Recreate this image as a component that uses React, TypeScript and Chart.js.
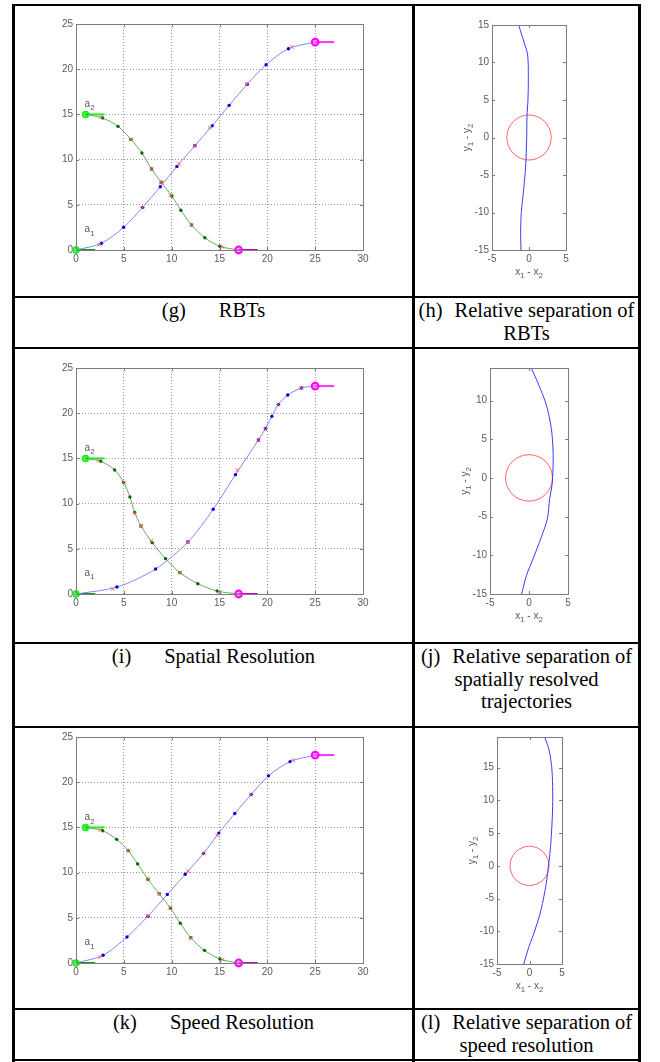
import React, { useEffect, useRef } from "react";
import { Chart, registerables } from "chart.js";
Chart.register(...registerables);

type P = [number, number];
type Part = { t: string; sub?: boolean };

// ---------------- axis ticks / ranges ----------------
const trajXTicks = [0, 5, 10, 15, 20, 25, 30];
const trajYTicks = [0, 5, 10, 15, 20, 25];
const trajXRange: P = [0, 30];
const trajYRange: P = [0, 25];

const sepXTicks = [-5, 0, 5];
const sepXRange: P = [-5, 5];
const sepYTicksH = [-15, -10, -5, 0, 5, 10, 15];
const sepYTicksJ = [-15, -10, -5, 0, 5, 10];
const sepYTicksL = [-15, -10, -5, 0, 5, 10, 15];
const sepYRangeH: P = [-15, 15];
const sepYRangeJ: P = [-15, 14.2];
const sepYRangeL: P = [-15, 19.7];

// ---------------- start / goal of the two agents ----------------
const a1Start: P = [0, 0];
const a2Start: P = [1, 15];
const a1Goal: P = [25, 23];
const a2Goal: P = [17, 0];
const a1StartTail: P[] = [[0, 0], [2, 0]];
const a2StartTail: P[] = [[1, 15], [3, 15]];
const a1GoalTail: P[] = [[25, 23], [27, 23]];
const a2GoalTail: P[] = [[17, 0], [19, 0]];

// ---------------- (g) RBTs ----------------
const gA1Track: P[] = [[0, 0], [2.65, 0.74], [4.98, 2.51], [6.96, 4.72], [8.81, 7.0], [10.55, 9.25], [12.43, 11.54], [14.24, 13.75], [16.01, 16.0], [17.89, 18.33], [19.87, 20.5], [22.21, 22.27], [25, 23]];
const gA1Est: P[] = [[2.44, 0.59], [6.96, 4.72], [8.95, 7.45], [10.76, 9.55], [12.43, 11.54], [13.99, 13.53], [17.89, 18.33], [22.55, 22.46]];
const gA2Track: P[] = [[1, 15], [2.78, 14.6], [4.39, 13.68], [5.74, 12.24], [6.89, 10.73], [7.9, 8.96], [8.91, 7.49], [10.02, 5.97], [10.96, 4.39], [12.08, 2.77], [13.47, 1.36], [15.04, 0.41], [17, 0]];
const gA2Est: P[] = [[2.58, 14.7], [5.74, 12.24], [7.9, 8.96], [8.91, 7.49], [9.88, 6.08], [12.08, 2.77], [15.31, 0.33]];
const gLabelA1: P = [0.9, 2.27];
const gLabelA2: P = [0.9, 16.2];

// ---------------- (i) Spatial resolution ----------------
const iA1Track: P[] = [[0, 0], [4.28, 0.77], [8.32, 2.77], [11.7, 5.75], [14.34, 9.37], [16.67, 13.2], [19.07, 17.04], [19.8, 18.29], [20.47, 19.65], [21.16, 20.98], [22.14, 22.01], [23.56, 22.79], [25, 23]];
const iA1Est: P[] = [[3.83, 0.55], [11.7, 5.75], [16.88, 13.72], [19.07, 17.04], [19.8, 18.2], [21.16, 20.98], [23.56, 22.79]];
const iA2Track: P[] = [[1, 15], [2.58, 14.68], [4.04, 13.72], [4.98, 12.35], [5.64, 10.73], [6.13, 9.03], [6.79, 7.52], [7.97, 5.68], [9.36, 3.91], [10.86, 2.36], [12.74, 1.14], [14.76, 0.33], [17, 0]];
const iA2Est: P[] = [[2.37, 14.75], [4.98, 12.35], [6.16, 8.89], [6.79, 7.52], [7.87, 5.9], [10.86, 2.36], [15.0, 0.22]];
const iLabelA1: P = [0.9, 2.35];
const iLabelA2: P = [0.9, 16.2];

// ---------------- (k) Speed resolution ----------------
const kA1Track: P[] = [[0, 0], [2.82, 0.85], [5.33, 2.87], [7.52, 5.18], [9.54, 7.57], [11.42, 9.82], [13.33, 12.13], [14.93, 14.37], [16.6, 16.54], [18.31, 18.64], [20.12, 20.7], [22.38, 22.28], [25, 23]];
const kA1Est: P[] = [[2.47, 0.66], [7.52, 5.18], [11.73, 10.15], [13.33, 12.13], [14.76, 14.12], [18.31, 18.64], [22.69, 22.43]];
const kA2Track: P[] = [[1, 15], [2.78, 14.63], [4.25, 13.68], [5.46, 12.43], [6.44, 10.96], [7.52, 9.26], [8.7, 7.65], [9.88, 6.07], [10.9, 4.41], [12.0, 2.79], [13.43, 1.4], [15.04, 0.44], [17, 0]];
const kA2Est: P[] = [[2.51, 14.7], [5.46, 12.43], [7.52, 9.26], [8.7, 7.65], [9.82, 6.14], [12.0, 2.79], [15.31, 0.37]];
const kLabelA1: P = [0.9, 2.27];
const kLabelA2: P = [0.9, 16.1];

// ---------------- relative separations ----------------
const hSep: P[] = [[-1.4, 15], [-0.63, 12.57], [-0.18, 11.0], [-0.09, 8.1], [-0.14, 5.04], [-0.27, 2.83], [-0.32, -0.27], [-0.45, -3.8], [-0.72, -6.9], [-1.04, -10.0], [-1.13, -12.65], [-1.08, -15]];
const jSep: P[] = [[0.3, 14.2], [1.24, 12.03], [2.22, 9.44], [2.86, 6.4], [3.08, 3.6], [3.08, 1.2], [2.95, -0.95], [2.65, -2.68], [2.35, -5.28], [1.58, -7.66], [0.51, -10.48], [-0.34, -12.64], [-0.98, -15.15]];
const lSep: P[] = [[2.33, 19.7], [3.0, 17.76], [3.41, 15.2], [3.56, 12.14], [3.56, 9.08], [3.41, 5.51], [3.15, 1.94], [2.9, -0.1], [2.59, -2.65], [1.77, -6.73], [0.85, -9.8], [-0.08, -12.35], [-0.9, -15.05]];
const safetyCenter: P = [0, 0];
const safetyRadius = 3;

// ---------------- styling ----------------
const FAM = "'Liberation Sans', Arial, Helvetica, sans-serif";
const TICK_COLOR = "#5a5a5a";
const TICK_SIZE = 10;
const BOX_COLOR = "#7c7c7c";

const xy = (a: P[]) => a.map(([x, y]) => ({ x, y }));

function drawRich(ctx: CanvasRenderingContext2D, parts: Part[], x: number, y: number, align: "left" | "center", size: number, color: string) {
  const sub = size * 0.78;
  const widths = parts.map((p) => {
    ctx.font = `${p.sub ? sub : size}px ${FAM}`;
    return ctx.measureText(p.t).width;
  });
  const total = widths.reduce((s, w) => s + w, 0);
  let cx = align === "center" ? x - total / 2 : x;
  ctx.fillStyle = color;
  ctx.textAlign = "left";
  ctx.textBaseline = "alphabetic";
  parts.forEach((p, i) => {
    ctx.font = `${p.sub ? sub : size}px ${FAM}`;
    ctx.fillText(p.t, cx, p.sub ? y + size * 0.32 : y);
    cx += widths[i];
  });
}

const matlabPlugin = {
  id: "matlabAxes",
  beforeDatasetsDraw(chart: any, _a: any, opts: any) {
    if (!opts.circle) return;
    const { ctx, scales } = chart;
    const xs = scales.x, ys = scales.y;
    const { c, r, color } = opts.circle;
    const px = xs.getPixelForValue(c[0]);
    const py = ys.getPixelForValue(c[1]);
    const rx = Math.abs(xs.getPixelForValue(c[0] + r) - px);
    const ry = Math.abs(ys.getPixelForValue(c[1] + r) - py);
    ctx.save();
    ctx.beginPath();
    ctx.ellipse(px, py, rx, ry, 0, 0, Math.PI * 2);
    ctx.strokeStyle = color;
    ctx.lineWidth = 1;
    ctx.stroke();
    ctx.restore();
  },
  afterDatasetsDraw(chart: any, _a: any, opts: any) {
    const { ctx, chartArea: a, scales } = chart;
    const xs = scales.x, ys = scales.y;
    ctx.save();
    ctx.strokeStyle = BOX_COLOR;
    ctx.lineWidth = 1;
    ctx.strokeRect(a.left + 0.5, a.top + 0.5, a.right - a.left, a.bottom - a.top);
    const len = opts.tickLen;
    ctx.beginPath();
    xs.ticks.forEach((t: any) => {
      const p = Math.round(xs.getPixelForValue(t.value)) + 0.5;
      if (p <= a.left + 1.5 || p >= a.right - 0.5) return;
      ctx.moveTo(p, a.bottom);
      ctx.lineTo(p, a.bottom - len);
      ctx.moveTo(p, a.top);
      ctx.lineTo(p, a.top + len);
    });
    ys.ticks.forEach((t: any) => {
      const p = Math.round(ys.getPixelForValue(t.value)) + 0.5;
      if (p <= a.top + 1.5 || p >= a.bottom - 0.5) return;
      ctx.moveTo(a.left, p);
      ctx.lineTo(a.left + len, p);
      ctx.moveTo(a.right, p);
      ctx.lineTo(a.right - len, p);
    });
    ctx.stroke();
    (opts.labels || []).forEach((lb: any) => {
      const px = xs.getPixelForValue(lb.at[0]);
      const py = ys.getPixelForValue(lb.at[1]);
      drawRich(ctx, lb.parts, px, py + 3, "left", TICK_SIZE, TICK_COLOR);
    });
    if (opts.xTitle) {
      drawRich(ctx, opts.xTitle, (a.left + a.right) / 2, a.bottom + 25, "center", TICK_SIZE, TICK_COLOR);
    }
    if (opts.yTitle) {
      ctx.save();
      ctx.translate(a.left - 25, (a.top + a.bottom) / 2);
      ctx.rotate(-Math.PI / 2);
      drawRich(ctx, opts.yTitle, 0, 3, "center", TICK_SIZE, TICK_COLOR);
      ctx.restore();
    }
    ctx.restore();
  },
};

interface Geo { left: number; top: number; width: number; height: number; L: number; T: number; R: number; B: number }

function axis(range: P, ticks: number[], sizeFn: (s: any) => void, grid: boolean) {
  return {
    type: "linear",
    min: range[0],
    max: range[1],
    afterBuildTicks: (s: any) => { s.ticks = ticks.map((v) => ({ value: v })); },
    afterFit: sizeFn,
    grid: grid
      ? { display: true, color: "rgba(60,60,60,0.55)", lineWidth: 1, drawTicks: false }
      : { display: false, drawTicks: false },
    border: { display: false, dash: [1, 2] },
    ticks: { padding: 3, autoSkip: false, maxRotation: 0, color: TICK_COLOR, font: { family: FAM, size: TICK_SIZE } },
  };
}

function baseOptions(g: Geo, xr: P, xt: number[], yr: P, yt: number[], grid: boolean, plugin: any) {
  const L = g.L - g.left, T = g.T - g.top, R = g.R - g.left, B = g.B - g.top;
  return {
    responsive: false,
    animation: false,
    events: [],
    layout: { padding: { left: 0, top: T, right: g.width - R, bottom: 0 } },
    scales: {
      x: axis(xr, xt, (s: any) => { s.height = g.height - B; s.paddingLeft = 0; s.paddingRight = 0; }, grid),
      y: axis(yr, yt, (s: any) => { s.width = L; s.paddingTop = 0; s.paddingBottom = 0; }, grid),
    },
    plugins: { legend: { display: false }, tooltip: { enabled: false }, matlabAxes: plugin },
  };
}

function trajConfig(g: Geo, a1T: P[], a1E: P[], a2T: P[], a2E: P[], la1: P, la2: P) {
  const dot = (n: number) => (c: any) => (c.dataIndex === 0 || c.dataIndex === n - 1 ? 0 : 1.7);
  const est = { showLine: false, pointStyle: "crossRot", pointRadius: 2.6, borderColor: "#ff6464", borderWidth: 1 };
  return {
    type: "scatter",
    data: {
      datasets: [
        { ...est, data: xy(a1E) },
        { ...est, data: xy(a2E) },
        { data: xy([a1Goal, a2Goal]), showLine: false, pointStyle: "circle", pointRadius: 3.4, borderWidth: 2, borderColor: "#ff00ff", backgroundColor: "rgba(255,80,255,0.55)", clip: false },
        { data: xy([a1Start, a2Start]), showLine: false, pointStyle: "circle", pointRadius: 3, borderWidth: 1.5, borderColor: "#00ff00", backgroundColor: "rgba(0,170,0,0.5)", clip: false },
        { data: xy(a1T), showLine: true, tension: 0.3, borderColor: "#8484ff", borderWidth: 1, pointRadius: dot(a1T.length), pointStyle: "circle", pointBackgroundColor: "#0000e0", pointBorderWidth: 0 },
        { data: xy(a2T), showLine: true, tension: 0.3, borderColor: "#5fae5f", borderWidth: 1, pointRadius: dot(a2T.length), pointStyle: "circle", pointBackgroundColor: "#006a00", pointBorderWidth: 0 },
        { data: xy(a1GoalTail), showLine: true, borderColor: "#ff33ff", borderWidth: 2, pointRadius: 0 },
        { data: xy(a2GoalTail), showLine: true, borderColor: "#cc00cc", borderWidth: 2, pointRadius: 0 },
        { data: xy(a1StartTail), showLine: true, borderColor: "#00a000", borderWidth: 2, pointRadius: 0 },
        { data: xy(a2StartTail), showLine: true, borderColor: "#22ee22", borderWidth: 2, pointRadius: 0 },
      ],
    },
    options: baseOptions(g, trajXRange, trajXTicks, trajYRange, trajYTicks, true, {
      tickLen: 3,
      labels: [
        { at: la2, parts: [{ t: "a" }, { t: "2", sub: true }] },
        { at: la1, parts: [{ t: "a" }, { t: "1", sub: true }] },
      ],
    }),
    plugins: [matlabPlugin],
  };
}

function sepConfig(g: Geo, sep: P[], yr: P, yt: number[]) {
  return {
    type: "scatter",
    data: {
      datasets: [
        { data: xy(sep), showLine: true, tension: 0.3, borderColor: "#3a3aff", borderWidth: 1, pointRadius: 0 },
      ],
    },
    options: baseOptions(g, sepXRange, sepXTicks, yr, yt, false, {
      tickLen: 3,
      circle: { c: safetyCenter, r: safetyRadius, color: "#ff6464" },
      xTitle: [{ t: "x" }, { t: "1", sub: true }, { t: " - x" }, { t: "2", sub: true }],
      yTitle: [{ t: "y" }, { t: "1", sub: true }, { t: " - y" }, { t: "2", sub: true }],
    }),
    plugins: [matlabPlugin],
  };
}

function ChartCanvas({ geo, config }: { geo: Geo; config: any }) {
  const ref = useRef<HTMLCanvasElement>(null);
  useEffect(() => {
    const chart = new Chart(ref.current as HTMLCanvasElement, config);
    return () => chart.destroy();
  }, []);
  return (
    <canvas
      ref={ref}
      width={geo.width}
      height={geo.height}
      style={{ position: "absolute", left: geo.left, top: geo.top, width: geo.width, height: geo.height }}
    />
  );
}

const geoG: Geo = { left: 15, top: 6, width: 397, height: 290, L: 76, T: 24, R: 363, B: 250 };
const geoH: Geo = { left: 415, top: 6, width: 223, height: 290, L: 492, T: 25, R: 566, B: 250 };
const geoI: Geo = { left: 15, top: 349, width: 397, height: 293, L: 76, T: 368, R: 363, B: 594 };
const geoJ: Geo = { left: 415, top: 349, width: 223, height: 293, L: 490, T: 368, R: 568, B: 594 };
const geoK: Geo = { left: 15, top: 728, width: 397, height: 280, L: 76, T: 737, R: 363, B: 963 };
const geoL: Geo = { left: 415, top: 728, width: 223, height: 280, L: 497, T: 737, R: 562, B: 964 };

const SERIF = "'Liberation Serif', 'Times New Roman', Times, serif";

function LeftCaption({ top, height, label, text }: { top: number; height: number; label: string; text: string }) {
  return (
    <div style={{ position: "absolute", left: 15, top, width: 397, height, fontFamily: SERIF, fontSize: 20.5, lineHeight: "22.5px", textAlign: "center", whiteSpace: "nowrap", color: "#000", paddingTop: 1, boxSizing: "border-box" }}>
      <span>{label}</span>
      <span style={{ display: "inline-block", width: 33 }} />
      <span>{text}</span>
    </div>
  );
}

function RightCaption({ top, height, label, lines }: { top: number; height: number; label: string; lines: string[] }) {
  return (
    <div style={{ position: "absolute", left: 415, top, width: 223, height, fontFamily: SERIF, fontSize: 20.5, lineHeight: "22.5px", textAlign: "center", whiteSpace: "nowrap", color: "#000", paddingTop: 1, boxSizing: "border-box" }}>
      <div>
        <span>{label}</span>
        <span style={{ display: "inline-block", width: 12 }} />
        <span>{lines[0]}</span>
      </div>
      {lines.slice(1).map((l, i) => (
        <div key={i}>{l}</div>
      ))}
    </div>
  );
}

const vLines = [12, 412, 638];
const hLines = [4, 296, 347, 642, 726, 1008, 1059];

export default function App() {
  return (
    <div style={{ position: "absolute", left: 0, top: 0, width: 660, height: 1062, background: "#fff", overflow: "hidden" }}>
      <ChartCanvas geo={geoG} config={trajConfig(geoG, gA1Track, gA1Est, gA2Track, gA2Est, gLabelA1, gLabelA2)} />
      <ChartCanvas geo={geoH} config={sepConfig(geoH, hSep, sepYRangeH, sepYTicksH)} />
      <ChartCanvas geo={geoI} config={trajConfig(geoI, iA1Track, iA1Est, iA2Track, iA2Est, iLabelA1, iLabelA2)} />
      <ChartCanvas geo={geoJ} config={sepConfig(geoJ, jSep, sepYRangeJ, sepYTicksJ)} />
      <ChartCanvas geo={geoK} config={trajConfig(geoK, kA1Track, kA1Est, kA2Track, kA2Est, kLabelA1, kLabelA2)} />
      <ChartCanvas geo={geoL} config={sepConfig(geoL, lSep, sepYRangeL, sepYTicksL)} />

      <LeftCaption top={298} height={49} label="(g)" text="RBTs" />
      <RightCaption top={298} height={49} label="(h)" lines={["Relative separation of", "RBTs"]} />
      <LeftCaption top={644} height={82} label="(i)" text="Spatial Resolution" />
      <RightCaption top={644} height={82} label="(j)" lines={["Relative separation of", "spatially resolved", "trajectories"]} />
      <LeftCaption top={1010} height={49} label="(k)" text="Speed Resolution" />
      <RightCaption top={1010} height={49} label="(l)" lines={["Relative separation of", "speed resolution"]} />

      {vLines.map((x) => (
        <div key={"v" + x} style={{ position: "absolute", left: x, top: 4, width: 3, height: 1058, background: "#000" }} />
      ))}
      {hLines.map((y) => (
        <div key={"h" + y} style={{ position: "absolute", left: 12, top: y, width: 629, height: 2, background: "#000" }} />
      ))}
    </div>
  );
}
